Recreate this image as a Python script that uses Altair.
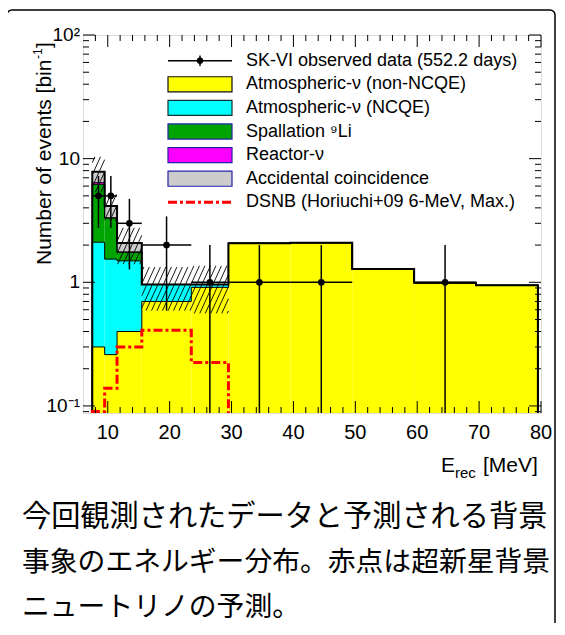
import altair as alt
import numpy as np
import pandas as pd

# ---------------- data ----------------
bin_edges = [7.5, 9.5, 11.5, 15.5, 23.5, 29.5, 39.5, 49.5, 59.5, 69.5, 79.5]
atm_non_ncqe = [0.30, 0.26, 0.40, 0.70, 0.91, 2.07, 2.09, 1.28, 0.99, 0.945]
atm_ncqe = [1.81, 1.28, 1.09, 0.26, 0.05, 0, 0, 0, 0, 0]
spallation_li9 = [4.09, 1.77, 0.26, 0, 0, 0, 0, 0, 0, 0]
reactor_nu = [0.20, 0.01, 0.01, 0, 0, 0, 0, 0, 0, 0]
accidental = [1.45, 0.82, 0.32, 0, 0, 0, 0, 0, 0, 0]
bkg_sys_err = [2.5, 1.0, 0.68, 0.37, 0.40]          # first five bins
dsnb = [0.09, 0.139, 0.30, 0.41, 0.225]             # first five bins

obs_energy = [8.5, 10.5, 13.5, 19.5, 26.5, 34.5, 44.5, 64.5]
obs_halfwidth = [1, 1, 2, 4, 3, 5, 5, 5]
obs_counts = [5, 5, 3, 2, 1, 1, 1, 1]
obs_err = [2.24, 2.24, 1.73, 1.41, 1.0, 1.0, 1.0, 1.0]

comp_names = ["Atmospheric-ν (non-NCQE)", "Atmospheric-ν (NCQE)", "Spallation ⁹Li",
              "Reactor-ν", "Accidental coincidence"]
comp_colors = ["#ffff00", "#00ffff", "#00a400", "#ff00ff", "#cccccc"]
comp_box_stroke = ["#111111", "#113333", "#2222aa", "#2222aa", "#2222aa"]
data_label = "SK-VI observed data (552.2 days)"
dsnb_label = "DSNB (Horiuchi+09 6-MeV, Max.)"

x_major = [10, 20, 30, 40, 50, 60, 70, 80]
x_minor = [v for v in range(8, 80, 2) if v % 10 != 0]
y_major = [0.1, 1, 10, 100]
y_major_labels = ["10⁻¹", "1", "10", "10²"]
y_minor = [0.09] + [k * 10.0 ** e for e in (-1, 0, 1) for k in range(2, 10)]

caption_lines = ["今回観測されたデータと予測される背景",
                 "事象のエネルギー分布。赤点は超新星背景",
                 "ニュートリノの予測。"]

# ---------------- layout ----------------
W, H = 458, 378
XMIN, XMAX = 6.0, 80.0
YMIN, YMAX = 0.0877, 100.0
FONT = "Liberation Sans"

xs = alt.Scale(domain=[XMIN, XMAX], nice=False, zero=False)
ys = alt.Scale(type="log", domain=[YMIN, YMAX], nice=False)


def X(f):
    return alt.X(f"{f}:Q", scale=xs, axis=None)


def X2(f):
    return alt.X2(f"{f}:Q")


def Y(f):
    return alt.Y(f"{f}:Q", scale=ys, axis=None)


def Y2(f):
    return alt.Y2(f"{f}:Q")


nb = len(bin_edges) - 1
vals = np.array([atm_non_ncqe, atm_ncqe, spallation_li9, reactor_nu, accidental], dtype=float)
cum = np.cumsum(vals, axis=0)
total = cum[-1]

# stacked fills
rect_rows = []
for c in range(len(comp_names)):
    for i in range(nb):
        if vals[c][i] <= 0:
            continue
        lo = YMIN if c == 0 else cum[c - 1][i]
        rect_rows.append(dict(x0=bin_edges[i], x1=bin_edges[i + 1], y0=lo, y1=cum[c][i],
                              comp=comp_names[c]))
fills = alt.Chart(pd.DataFrame(rect_rows)).mark_rect().encode(
    x=X("x0"), x2=X2("x1"), y=Y("y0"), y2=Y2("y1"),
    color=alt.Color("comp:N", scale=alt.Scale(domain=comp_names, range=comp_colors), legend=None),
)


def step_points(v, name):
    n = len(v)
    pts = [(bin_edges[0], YMIN)] + [(bin_edges[i], v[i]) for i in range(n)]
    pts += [(bin_edges[n], v[n - 1]), (bin_edges[n], YMIN)]
    return [dict(series=name, i=k, x=p[0], y=max(p[1], YMIN)) for k, p in enumerate(pts)]


thin_rows = []
for c in range(len(comp_names) - 1):
    thin_rows += step_points(list(cum[c]), comp_names[c])
thin = alt.Chart(pd.DataFrame(thin_rows)).mark_line(
    interpolate="step-after", color="black", strokeWidth=1
).encode(x=X("x"), y=Y("y"), detail="series:N", order="i:Q")

thick = alt.Chart(pd.DataFrame(step_points(list(total), "total"))).mark_line(
    interpolate="step-after", color="black", strokeWidth=2
).encode(x=X("x"), y=Y("y"), order="i:Q")

# hatched systematic band
sx = W / (XMAX - XMIN)
sy = H / (np.log10(YMAX) - np.log10(YMIN))
slope, spacing = 2.2, 5.5
hatch_rows = []
for i, err in enumerate(bkg_sys_err):
    lo, hi = max(total[i] - err, YMIN), total[i] + err
    Xa, Xb = (bin_edges[i] - XMIN) * sx, (bin_edges[i + 1] - XMIN) * sx
    Ya, Yb = (np.log10(lo) - np.log10(YMIN)) * sy, (np.log10(hi) - np.log10(YMIN)) * sy
    k0 = int(np.floor((Xa - Yb / slope) / spacing)) - 1
    k1 = int(np.ceil((Xb - Ya / slope) / spacing)) + 1
    for k in range(k0, k1 + 1):
        X0 = k * spacing
        a = max(Xa, X0 + Ya / slope)
        b = min(Xb, X0 + Yb / slope)
        if b - a > 0.05:
            hatch_rows.append(dict(
                x=a / sx + XMIN, y=10 ** (slope * (a - X0) / sy + np.log10(YMIN)),
                x2=b / sx + XMIN, y2=10 ** (slope * (b - X0) / sy + np.log10(YMIN))))
hatch = alt.Chart(pd.DataFrame(hatch_rows)).mark_rule(color="black", strokeWidth=0.9).encode(
    x=X("x"), y=Y("y"), x2=X2("x2"), y2=Y2("y2"))

# DSNB
dsnb_line = alt.Chart(pd.DataFrame(step_points(dsnb, "dsnb"))).mark_line(
    interpolate="step-after", color="#ff0000", strokeWidth=3, strokeDash=[9, 3, 3, 3], clip=True
).encode(x=X("x"), y=Y("y"), order="i:Q")

# observed data
obs = pd.DataFrame(dict(e=obs_energy, hw=obs_halfwidth, n=obs_counts, err=obs_err))
obs["xl"] = obs.e - obs.hw
obs["xh"] = obs.e + obs.hw
obs["yl"] = np.maximum(obs.n - obs.err, YMIN)
obs["yh"] = obs.n + obs.err
obs_h = alt.Chart(obs).mark_rule(color="black", strokeWidth=1.5).encode(
    x=X("xl"), x2=X2("xh"), y=Y("n"))
obs_v = alt.Chart(obs).mark_rule(color="black", strokeWidth=1.5).encode(
    x=X("e"), y=Y("yl"), y2=Y2("yh"))
obs_p = alt.Chart(obs).mark_circle(color="black", opacity=1, size=45).encode(x=X("e"), y=Y("n"))

# ticks (inside, on all four sides)
tick_layers = []
for vals_, ln in ((y_major, 12), (y_minor, 6)):
    d = pd.DataFrame(dict(v=vals_))
    tick_layers.append(alt.Chart(d).mark_rule(color="black", strokeWidth=1).encode(
        y=Y("v"), x=alt.value(0), x2=alt.value(ln)))
    tick_layers.append(alt.Chart(d).mark_rule(color="black", strokeWidth=1).encode(
        y=Y("v"), x=alt.value(W), x2=alt.value(W - ln)))
for vals_, ln in ((x_major, 12), (x_minor, 6)):
    d = pd.DataFrame(dict(v=vals_))
    tick_layers.append(alt.Chart(d).mark_rule(color="black", strokeWidth=1).encode(
        x=X("v"), y=alt.value(H), y2=alt.value(H - ln)))
    tick_layers.append(alt.Chart(d).mark_rule(color="black", strokeWidth=1).encode(
        x=X("v"), y=alt.value(0), y2=alt.value(ln)))

x_lab = alt.Chart(pd.DataFrame(dict(v=x_major, t=[str(v) for v in x_major]))).mark_text(
    font=FONT, fontSize=20, baseline="middle", align="center", color="black"
).encode(x=X("v"), y=alt.value(H + 20), text="t:N")
y_lab = alt.Chart(pd.DataFrame(dict(v=y_major, t=y_major_labels))).mark_text(
    font=FONT, fontSize=19, baseline="middle", align="right", color="black"
).encode(y=Y("v"), x=alt.value(-3), text="t:N")

dummy = pd.DataFrame(dict(a=[0]))


def txt(s, x, y, size, **kw):
    return alt.Chart(dummy).mark_text(font=kw.pop("font", FONT), fontSize=size, color="black",
                                      **kw).encode(x=alt.value(x), y=alt.value(y), text=alt.value(s))


titles = [
    txt("E", 358, 437, 21, align="left", baseline="alphabetic"),
    txt("rec", 372, 443, 15, align="left", baseline="alphabetic"),
    txt("[MeV]", 400, 437, 21, align="left", baseline="alphabetic"),
    txt("Number of events [bin", -32, 230, 21, align="left", baseline="alphabetic", angle=270),
    txt("-1", -41, 24, 12, align="left", baseline="alphabetic", angle=270),
    txt("]", -32, 13, 21, align="left", baseline="alphabetic", angle=270),
]

frame = alt.Chart(dummy).mark_rect(fillOpacity=0, stroke="black", strokeWidth=1.5,
                                   cornerRadius=5).encode(
    x=alt.value(-76), x2=alt.value(472), y=alt.value(-25), y2=alt.value(620))

caption = [
    txt(caption_lines[0], -61, 482, 29.2, align="left", baseline="middle", font="Noto Sans CJK JP"),
    txt(caption_lines[1], -61, 528, 27.8, align="left", baseline="middle", font="Noto Sans CJK JP"),
    txt(caption_lines[2], -61, 573, 27.8, align="left", baseline="middle", font="Noto Sans CJK JP"),
]

main = alt.layer(fills, hatch, thin, thick, dsnb_line, obs_h, obs_v, obs_p,
                 *tick_layers, x_lab, y_lab, *titles, frame, *caption)

# ---------------- legend (own row scale) ----------------
leg = pd.DataFrame(dict(
    row=list(range(7)),
    label=[data_label] + comp_names + [dsnb_label],
    kind=["data"] + ["box"] * 5 + ["line"],
    fill=["#ffffff"] + comp_colors + ["#ffffff"],
    stroke=["#000000"] + comp_box_stroke + ["#ff0000"],
))
LY = alt.Scale(domain=[0, 6], range=[25.7, 167.3])
base = alt.Chart(leg).transform_calculate(ya="datum.row - 0.32", yb="datum.row + 0.32",
                                          ea="datum.row - 0.22", eb="datum.row + 0.22")
leg_text = base.mark_text(font=FONT, fontSize=18, align="left", baseline="middle",
                          color="black").encode(
    x=alt.value(163), y=alt.Y("row:Q", scale=LY, axis=None), text="label:N")
leg_box = base.transform_filter("datum.kind == 'box'").mark_rect(strokeWidth=1.2).encode(
    x=alt.value(85), x2=alt.value(149),
    y=alt.Y("ya:Q", scale=LY, axis=None), y2="yb:Q",
    fill=alt.Fill("fill:N", scale=None), stroke=alt.Stroke("stroke:N", scale=None))
leg_dline = base.transform_filter("datum.kind == 'data'").mark_rule(
    color="black", strokeWidth=1.5).encode(
    x=alt.value(85), x2=alt.value(149), y=alt.Y("row:Q", scale=LY, axis=None))
leg_dbar = base.transform_filter("datum.kind == 'data'").mark_rule(
    color="black", strokeWidth=1.5).encode(
    x=alt.value(117), y=alt.Y("ea:Q", scale=LY, axis=None), y2="eb:Q")
leg_dpt = base.transform_filter("datum.kind == 'data'").mark_circle(
    color="black", opacity=1, size=40).encode(
    x=alt.value(117), y=alt.Y("row:Q", scale=LY, axis=None))
leg_red = base.transform_filter("datum.kind == 'line'").mark_rule(
    color="#ff0000", strokeWidth=3, strokeDash=[9, 3, 3, 3]).encode(
    x=alt.value(85), x2=alt.value(149), y=alt.Y("row:Q", scale=LY, axis=None))

legend = alt.layer(leg_text, leg_box, leg_dline, leg_dbar, leg_dpt, leg_red)

chart = alt.layer(main, legend).resolve_scale(y="independent").properties(
    width=W, height=H,
    padding={"left": 75, "top": 27, "right": 16, "bottom": 210},
    autosize=alt.AutoSizeParams(type="none"),
).configure_view(stroke="black", strokeWidth=1.5).configure(background="white")

chart.save("out.html", embed_options={"renderer": "svg", "actions": False})
